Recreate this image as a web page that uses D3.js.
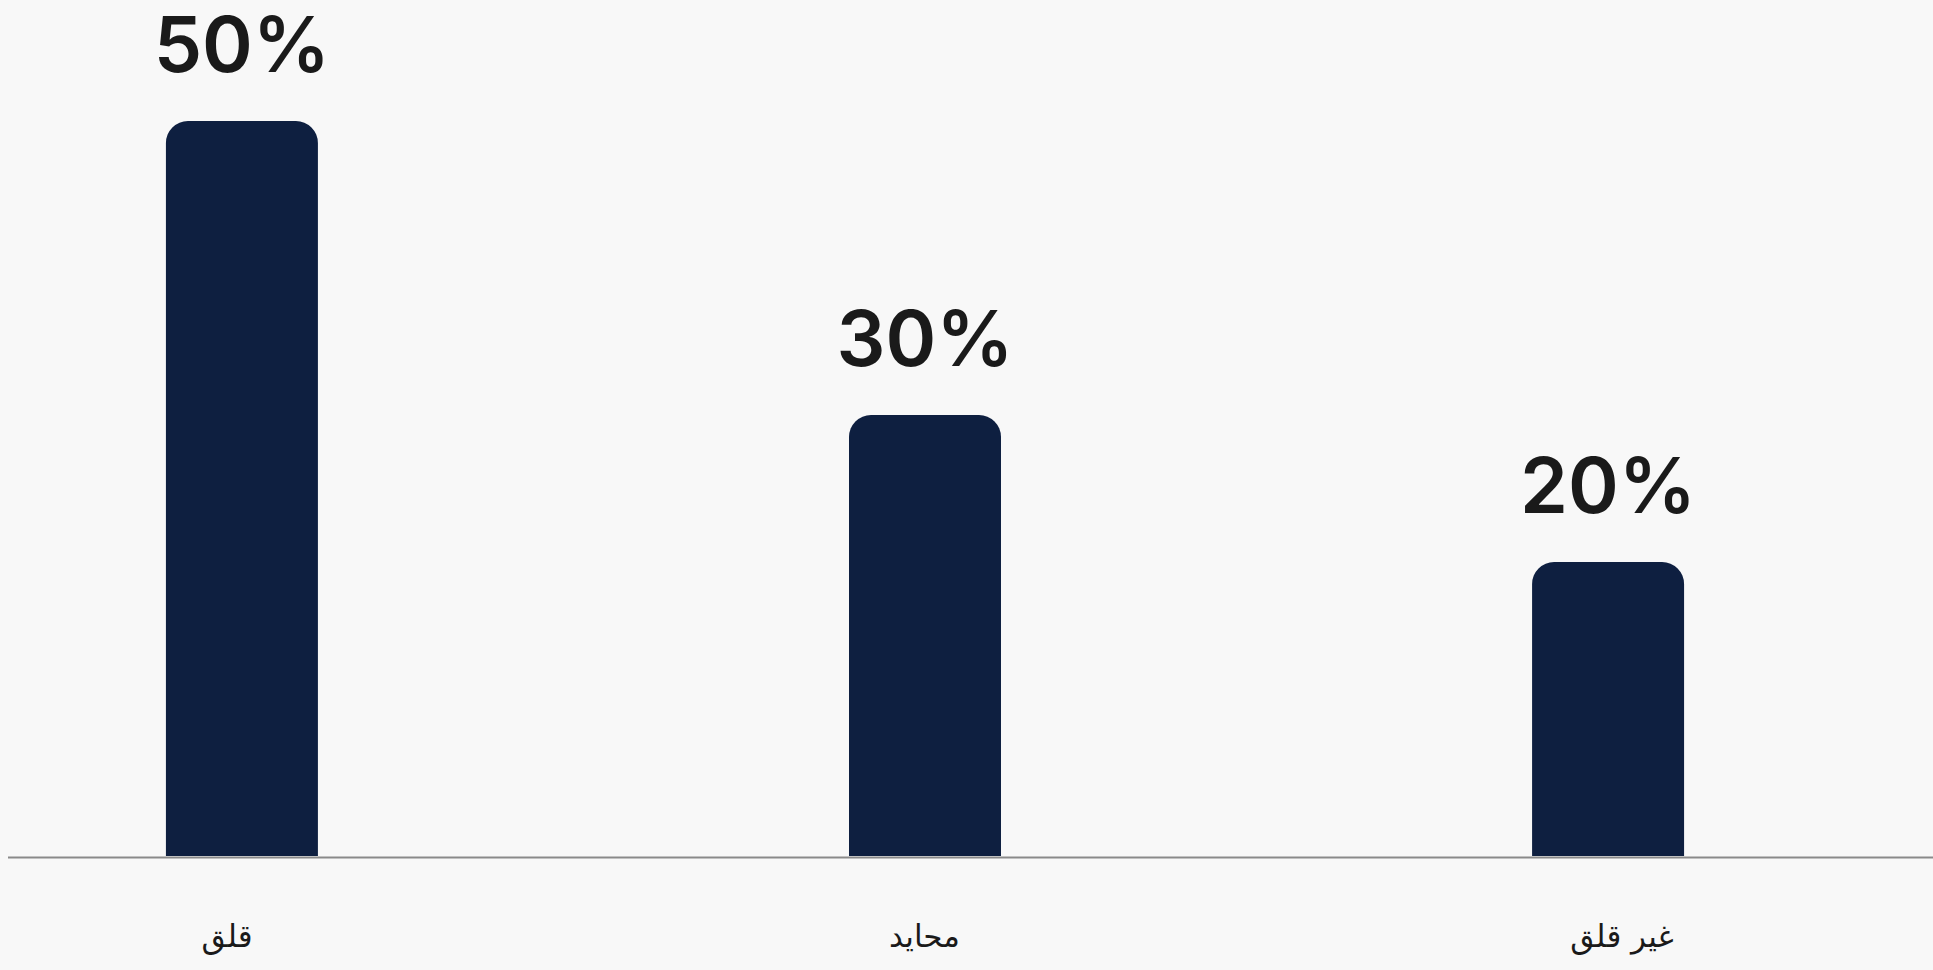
<!DOCTYPE html>
<html>
<head>
<meta charset="utf-8">
<script src="https://cdn.jsdelivr.net/npm/d3@7/dist/d3.min.js"></script>
<style>
  html, body { margin: 0; padding: 0; background: #f8f8f8; }
  svg { display: block; }
</style>
</head>
<body>
<svg id="chart" width="1933" height="970"></svg>
<script>
// Survey answers and their shares (percent)
const categories = ["قلق", "محايد", "غير قلق"];
const values = [50, 30, 20];
const valueLabels = ["50%", "30%", "20%"];

const W = 1933, H = 970;
const svg = d3.select("#chart");

svg.append("rect").attr("width", W).attr("height", H).attr("fill", "#f8f8f8");

const x = d3.scaleBand()
  .domain(categories)
  .range([-39, 1889])
  .paddingInner(0.7775)
  .paddingOuter(0.3);

const y = d3.scaleLinear().domain([0, 50]).range([856, 121]);

// category labels sit on their own point scale under the baseline
const xLabel = d3.scalePoint().domain(categories).range([227, 1622]);

// bar outline with rounded top corners only
const r = 22;
function topRounded(x0, y0, w, h) {
  const rr = Math.min(r, w / 2, h);
  return `M${x0},${y0 + h}V${y0 + rr}A${rr},${rr} 0 0 1 ${x0 + rr},${y0}` +
         `H${x0 + w - rr}A${rr},${rr} 0 0 1 ${x0 + w},${y0 + rr}V${y0 + h}Z`;
}

const data = categories.map((c, i) => ({ c, v: values[i], label: valueLabels[i] }));

svg.append("g").selectAll("path").data(data).join("path")
  .attr("d", d => topRounded(x(d.c), y(d.v), x.bandwidth(), y(0) - y(d.v)))
  .attr("fill", "#0e1f40");

// baseline
svg.append("line")
  .attr("x1", 8).attr("x2", W)
  .attr("y1", 857.5).attr("y2", 857.5)
  .attr("stroke", "#8a8a8a").attr("stroke-width", 2);

// value labels above bars
svg.append("g").selectAll("text").data(data).join("text")
  .attr("x", d => x(d.c) + x.bandwidth() / 2)
  .attr("y", d => y(d.v) - 49)
  .attr("text-anchor", "middle")
  .attr("font-family", "Inter, 'Noto Sans', sans-serif")
  .attr("font-weight", 600)
  .attr("font-size", 77)
  .attr("fill", "#1a1a1a")
  .text(d => d.label);

// category labels
svg.append("g").selectAll("text").data(data).join("text")
  .attr("x", d => xLabel(d.c))
  .attr("y", 947)
  .attr("text-anchor", "middle")
  .attr("direction", "rtl")
  .attr("font-family", "'DejaVu Sans', sans-serif")
  .attr("font-size", 31)
  .attr("fill", "#1a1a1a")
  .text(d => d.c);
</script>
</body>
</html>
